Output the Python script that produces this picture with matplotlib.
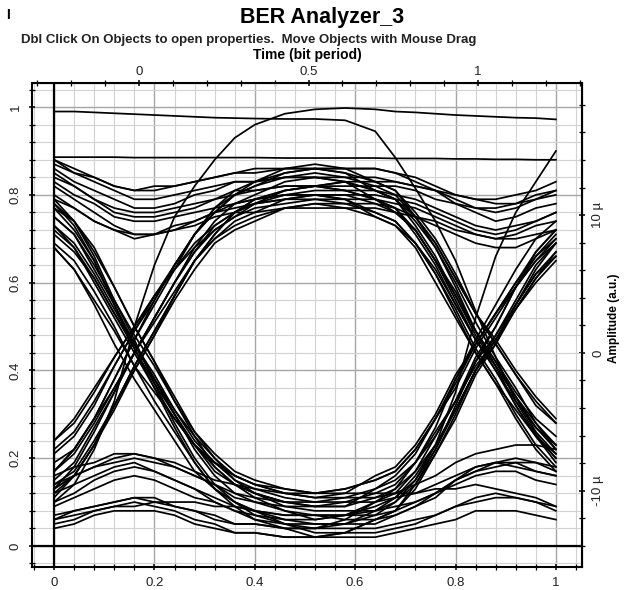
import matplotlib
matplotlib.use("Agg")
import matplotlib.pyplot as plt
from matplotlib.ticker import MultipleLocator, FuncFormatter

plt.rcParams['font.family'] = ['Liberation Sans', 'DejaVu Sans']

# sample times (fraction of the window) shared by every trace
time = [0.0, 0.04, 0.08, 0.12, 0.16, 0.20, 0.24, 0.28, 0.32, 0.36, 0.40, 0.46,
        0.52, 0.58, 0.64, 0.68, 0.72, 0.76, 0.80, 0.84, 0.88, 0.92, 0.96, 1.0]

# 1-0-1 traces (bottom of the eye)
u1 = [0.75, 0.71, 0.64, 0.56, 0.48, 0.41, 0.33, 0.26, 0.21, 0.17, 0.15, 0.13, 0.12, 0.13, 0.15, 0.17, 0.22, 0.29, 0.36, 0.45, 0.52, 0.59, 0.65, 0.70]
u2 = [0.71, 0.67, 0.61, 0.53, 0.45, 0.37, 0.30, 0.23, 0.18, 0.14, 0.12, 0.10, 0.09, 0.10, 0.12, 0.14, 0.19, 0.25, 0.33, 0.42, 0.48, 0.55, 0.62, 0.66]
u3 = [0.77, 0.72, 0.65, 0.55, 0.46, 0.38, 0.30, 0.22, 0.16, 0.12, 0.10, 0.08, 0.06, 0.07, 0.10, 0.12, 0.17, 0.25, 0.33, 0.43, 0.50, 0.59, 0.66, 0.71]
u4 = [0.69, 0.65, 0.58, 0.50, 0.41, 0.33, 0.26, 0.19, 0.13, 0.10, 0.08, 0.05, 0.04, 0.05, 0.08, 0.10, 0.15, 0.22, 0.31, 0.40, 0.47, 0.55, 0.62, 0.67]
u5 = [0.73, 0.69, 0.62, 0.54, 0.46, 0.39, 0.31, 0.24, 0.19, 0.15, 0.13, 0.11, 0.10, 0.11, 0.13, 0.15, 0.19, 0.26, 0.33, 0.41, 0.47, 0.54, 0.60, 0.65]
u6 = [0.78, 0.73, 0.65, 0.55, 0.45, 0.36, 0.27, 0.19, 0.13, 0.09, 0.06, 0.04, 0.02, 0.03, 0.06, 0.08, 0.14, 0.22, 0.32, 0.42, 0.50, 0.59, 0.67, 0.72]
u7 = [0.77, 0.74, 0.67, 0.59, 0.50, 0.42, 0.34, 0.26, 0.20, 0.15, 0.12, 0.10, 0.09, 0.09, 0.13, 0.16, 0.21, 0.29, 0.38, 0.46, 0.53, 0.60, 0.66, 0.70]
u8 = [0.68, 0.63, 0.55, 0.46, 0.38, 0.31, 0.24, 0.17, 0.13, 0.10, 0.08, 0.06, 0.05, 0.05, 0.07, 0.10, 0.14, 0.21, 0.29, 0.39, 0.46, 0.55, 0.63, 0.69]
u9 = [0.73, 0.68, 0.60, 0.52, 0.44, 0.36, 0.29, 0.23, 0.19, 0.16, 0.14, 0.12, 0.11, 0.12, 0.16, 0.18, 0.23, 0.30, 0.39, 0.46, 0.53, 0.59, 0.65, 0.69]

# 0-1-0 traces (top of the eye)
n1 = [0.19, 0.22, 0.29, 0.36, 0.44, 0.51, 0.58, 0.65, 0.70, 0.73, 0.75, 0.77, 0.78, 0.77, 0.75, 0.73, 0.69, 0.63, 0.55, 0.47, 0.41, 0.34, 0.28, 0.23]
n2 = [0.15, 0.19, 0.27, 0.35, 0.44, 0.52, 0.60, 0.67, 0.73, 0.76, 0.78, 0.81, 0.82, 0.81, 0.79, 0.76, 0.72, 0.65, 0.56, 0.47, 0.40, 0.32, 0.25, 0.20]
n3 = [0.22, 0.26, 0.33, 0.41, 0.49, 0.56, 0.64, 0.71, 0.76, 0.80, 0.82, 0.84, 0.85, 0.84, 0.82, 0.80, 0.75, 0.69, 0.61, 0.53, 0.46, 0.39, 0.32, 0.28]
n4 = [0.11, 0.16, 0.23, 0.32, 0.41, 0.49, 0.57, 0.65, 0.70, 0.74, 0.76, 0.79, 0.80, 0.79, 0.76, 0.74, 0.69, 0.62, 0.53, 0.44, 0.37, 0.29, 0.22, 0.17]
n5 = [0.17, 0.22, 0.29, 0.38, 0.47, 0.56, 0.64, 0.71, 0.77, 0.81, 0.83, 0.86, 0.87, 0.86, 0.83, 0.81, 0.75, 0.68, 0.59, 0.49, 0.41, 0.32, 0.25, 0.19]
n6 = [0.13, 0.18, 0.26, 0.35, 0.44, 0.52, 0.60, 0.68, 0.74, 0.78, 0.80, 0.83, 0.84, 0.83, 0.81, 0.79, 0.75, 0.69, 0.61, 0.53, 0.47, 0.40, 0.34, 0.29]
n7 = [0.13, 0.16, 0.23, 0.31, 0.40, 0.48, 0.57, 0.65, 0.71, 0.76, 0.79, 0.81, 0.82, 0.83, 0.81, 0.79, 0.74, 0.68, 0.60, 0.51, 0.43, 0.36, 0.28, 0.22]
n8 = [0.24, 0.28, 0.35, 0.43, 0.50, 0.57, 0.63, 0.69, 0.73, 0.76, 0.78, 0.79, 0.80, 0.79, 0.75, 0.73, 0.68, 0.60, 0.52, 0.44, 0.37, 0.31, 0.25, 0.21]
n9 = [0.17, 0.22, 0.29, 0.38, 0.47, 0.55, 0.63, 0.71, 0.76, 0.80, 0.82, 0.85, 0.86, 0.85, 0.81, 0.79, 0.73, 0.66, 0.57, 0.49, 0.42, 0.35, 0.29, 0.25]

# 1-1-1 and 0-0-0 traces
h1 = [0.86, 0.83, 0.81, 0.79, 0.77, 0.77, 0.78, 0.80, 0.81, 0.83, 0.83, 0.84, 0.84, 0.84, 0.84, 0.83, 0.82, 0.81, 0.79, 0.77, 0.77, 0.78, 0.79, 0.81]
h2 = [0.82, 0.79, 0.76, 0.73, 0.71, 0.71, 0.73, 0.74, 0.76, 0.78, 0.79, 0.80, 0.80, 0.80, 0.80, 0.79, 0.78, 0.76, 0.74, 0.72, 0.71, 0.72, 0.74, 0.76]
h3 = [0.88, 0.86, 0.84, 0.82, 0.81, 0.81, 0.82, 0.83, 0.84, 0.85, 0.85, 0.86, 0.86, 0.86, 0.86, 0.85, 0.83, 0.81, 0.78, 0.76, 0.74, 0.75, 0.77, 0.78]
h4 = [0.85, 0.82, 0.79, 0.76, 0.75, 0.75, 0.76, 0.77, 0.79, 0.80, 0.81, 0.82, 0.82, 0.82, 0.82, 0.82, 0.81, 0.79, 0.78, 0.77, 0.76, 0.77, 0.79, 0.80]
h5 = [0.79, 0.77, 0.74, 0.72, 0.71, 0.71, 0.72, 0.73, 0.75, 0.76, 0.76, 0.77, 0.77, 0.77, 0.77, 0.76, 0.75, 0.74, 0.72, 0.71, 0.70, 0.70, 0.71, 0.72]
l1 = [0.14, 0.16, 0.18, 0.19, 0.20, 0.19, 0.18, 0.16, 0.14, 0.12, 0.11, 0.10, 0.10, 0.10, 0.10, 0.11, 0.12, 0.14, 0.16, 0.18, 0.19, 0.19, 0.17, 0.16]
l2 = [0.06, 0.08, 0.09, 0.10, 0.11, 0.11, 0.09, 0.08, 0.07, 0.05, 0.05, 0.04, 0.04, 0.04, 0.04, 0.05, 0.06, 0.07, 0.09, 0.11, 0.12, 0.11, 0.10, 0.09]
l3 = [0.10, 0.12, 0.15, 0.17, 0.18, 0.17, 0.15, 0.13, 0.11, 0.09, 0.08, 0.07, 0.07, 0.07, 0.07, 0.08, 0.10, 0.12, 0.15, 0.17, 0.18, 0.19, 0.19, 0.18]
l4 = [0.12, 0.14, 0.16, 0.18, 0.19, 0.17, 0.15, 0.13, 0.10, 0.08, 0.06, 0.05, 0.05, 0.05, 0.05, 0.07, 0.09, 0.11, 0.15, 0.18, 0.19, 0.20, 0.19, 0.17]
l5 = [0.04, 0.05, 0.07, 0.08, 0.08, 0.08, 0.07, 0.05, 0.04, 0.03, 0.03, 0.02, 0.02, 0.02, 0.02, 0.03, 0.04, 0.05, 0.06, 0.08, 0.08, 0.08, 0.07, 0.06]

# 1-1-0 and 0-1-1 traces
a1 = [0.84, 0.82, 0.79, 0.77, 0.76, 0.76, 0.77, 0.78, 0.79, 0.81, 0.81, 0.82, 0.82, 0.81, 0.79, 0.77, 0.72, 0.65, 0.57, 0.48, 0.41, 0.34, 0.27, 0.22]
a2 = [0.80, 0.77, 0.74, 0.72, 0.70, 0.71, 0.72, 0.74, 0.76, 0.77, 0.78, 0.79, 0.79, 0.78, 0.76, 0.74, 0.69, 0.62, 0.54, 0.45, 0.38, 0.30, 0.23, 0.18]
a3 = [0.87, 0.85, 0.84, 0.82, 0.81, 0.82, 0.82, 0.83, 0.84, 0.85, 0.86, 0.86, 0.86, 0.85, 0.83, 0.81, 0.76, 0.70, 0.62, 0.53, 0.46, 0.39, 0.33, 0.28]
a4 = [0.83, 0.80, 0.78, 0.75, 0.74, 0.74, 0.75, 0.76, 0.77, 0.78, 0.79, 0.80, 0.80, 0.80, 0.78, 0.76, 0.72, 0.65, 0.58, 0.49, 0.42, 0.34, 0.26, 0.21]
a5 = [0.88, 0.85, 0.83, 0.81, 0.79, 0.79, 0.80, 0.81, 0.82, 0.83, 0.83, 0.84, 0.84, 0.83, 0.79, 0.77, 0.71, 0.64, 0.55, 0.47, 0.40, 0.33, 0.27, 0.23]
b1 = [0.17, 0.21, 0.28, 0.36, 0.44, 0.52, 0.60, 0.67, 0.72, 0.75, 0.78, 0.80, 0.81, 0.81, 0.81, 0.80, 0.79, 0.77, 0.75, 0.73, 0.72, 0.73, 0.74, 0.76]
b2 = [0.21, 0.25, 0.32, 0.41, 0.49, 0.57, 0.64, 0.71, 0.77, 0.80, 0.83, 0.85, 0.86, 0.86, 0.86, 0.85, 0.84, 0.82, 0.80, 0.79, 0.78, 0.78, 0.80, 0.81]
b3 = [0.12, 0.16, 0.23, 0.32, 0.40, 0.48, 0.56, 0.63, 0.69, 0.72, 0.74, 0.77, 0.78, 0.78, 0.78, 0.77, 0.75, 0.73, 0.71, 0.69, 0.68, 0.68, 0.70, 0.72]
b4 = [0.14, 0.17, 0.24, 0.32, 0.41, 0.49, 0.57, 0.65, 0.71, 0.76, 0.79, 0.81, 0.82, 0.83, 0.83, 0.83, 0.82, 0.81, 0.80, 0.79, 0.79, 0.80, 0.81, 0.83]
b5 = [0.24, 0.29, 0.36, 0.43, 0.50, 0.57, 0.63, 0.68, 0.72, 0.75, 0.77, 0.78, 0.79, 0.79, 0.79, 0.78, 0.77, 0.75, 0.73, 0.71, 0.70, 0.71, 0.73, 0.74]

# 1-0-0 and 0-0-1 traces
c1 = [0.75, 0.71, 0.63, 0.55, 0.46, 0.38, 0.30, 0.23, 0.17, 0.14, 0.12, 0.09, 0.08, 0.08, 0.08, 0.09, 0.10, 0.12, 0.14, 0.16, 0.17, 0.17, 0.15, 0.14]
c2 = [0.72, 0.68, 0.61, 0.53, 0.46, 0.38, 0.31, 0.25, 0.20, 0.16, 0.14, 0.12, 0.11, 0.11, 0.11, 0.12, 0.14, 0.16, 0.19, 0.21, 0.22, 0.23, 0.23, 0.22]
c3 = [0.79, 0.74, 0.66, 0.56, 0.47, 0.37, 0.28, 0.20, 0.14, 0.10, 0.07, 0.05, 0.03, 0.03, 0.03, 0.04, 0.05, 0.07, 0.09, 0.10, 0.11, 0.11, 0.10, 0.08]
c4 = [0.78, 0.74, 0.68, 0.59, 0.50, 0.42, 0.33, 0.25, 0.18, 0.14, 0.11, 0.08, 0.07, 0.06, 0.06, 0.07, 0.09, 0.12, 0.15, 0.17, 0.19, 0.18, 0.17, 0.16]
c5 = [0.68, 0.63, 0.56, 0.49, 0.41, 0.35, 0.29, 0.23, 0.19, 0.16, 0.14, 0.13, 0.12, 0.12, 0.12, 0.12, 0.12, 0.13, 0.13, 0.14, 0.13, 0.12, 0.11, 0.09]
d1 = [0.16, 0.18, 0.19, 0.21, 0.21, 0.20, 0.19, 0.17, 0.15, 0.14, 0.13, 0.12, 0.12, 0.13, 0.15, 0.17, 0.22, 0.29, 0.37, 0.46, 0.53, 0.60, 0.67, 0.72]
d2 = [0.09, 0.11, 0.13, 0.15, 0.16, 0.15, 0.13, 0.11, 0.10, 0.08, 0.07, 0.06, 0.06, 0.07, 0.09, 0.11, 0.16, 0.23, 0.31, 0.40, 0.47, 0.54, 0.61, 0.66]
d3 = [0.05, 0.06, 0.08, 0.09, 0.10, 0.09, 0.08, 0.06, 0.05, 0.03, 0.03, 0.02, 0.02, 0.03, 0.06, 0.08, 0.13, 0.21, 0.30, 0.40, 0.48, 0.56, 0.64, 0.69]
d4 = [0.13, 0.16, 0.18, 0.20, 0.21, 0.20, 0.18, 0.16, 0.14, 0.11, 0.10, 0.09, 0.09, 0.09, 0.11, 0.13, 0.17, 0.23, 0.31, 0.40, 0.46, 0.54, 0.61, 0.67]
d5 = [0.07, 0.08, 0.09, 0.10, 0.11, 0.10, 0.09, 0.08, 0.06, 0.05, 0.05, 0.04, 0.04, 0.06, 0.10, 0.13, 0.19, 0.27, 0.38, 0.47, 0.55, 0.63, 0.70, 0.74]

# odd traces: top line, overshoot bell, late rise, flat 0.885 line
s1 = [0.99, 0.99, 0.988, 0.986, 0.984, 0.982, 0.98, 0.978, 0.976, 0.975, 0.974, 0.973, 0.973, 0.97, 0.945, 0.885, 0.815, 0.74, 0.65, 0.535, 0.43, 0.33, 0.255, 0.20]
s2 = [0.10, 0.14, 0.22, 0.33, 0.50, 0.64, 0.75, 0.82, 0.88, 0.93, 0.96, 0.985, 0.995, 0.998, 0.995, 0.99, 0.988, 0.985, 0.982, 0.98, 0.978, 0.976, 0.975, 0.972]
s3 = [0.06, 0.07, 0.08, 0.09, 0.09, 0.10, 0.10, 0.10, 0.09, 0.09, 0.08, 0.07, 0.07, 0.07, 0.08, 0.11, 0.15, 0.23, 0.35, 0.52, 0.66, 0.76, 0.83, 0.90]
s4 = [0.886, 0.886, 0.886, 0.886, 0.885, 0.885, 0.885, 0.885, 0.885, 0.885, 0.885, 0.884, 0.884, 0.884, 0.884, 0.883, 0.883, 0.883, 0.882, 0.882, 0.881, 0.881, 0.88, 0.88]

traces = [u1, u2, u3, u4, u5, u6, u7, u8, u9,
          n1, n2, n3, n4, n5, n6, n7, n8, n9,
          h1, h2, h3, h4, h5, l1, l2, l3, l4, l5,
          a1, a2, a3, a4, a5, b1, b2, b3, b4, b5,
          c1, c2, c3, c4, c5, d1, d2, d3, d4, d5,
          s1, s2, s3, s4]

# top axis: bit period, right axis: amplitude
bit_zero = 0.169
bit_len = 0.676
amp_zero = 0.44
amp_scale = 31.85   # micro units per normalised unit

fig = plt.figure(figsize=(6.24, 5.9), dpi=100)
ax = fig.add_axes([32 / 624, 1 - 567 / 590, 550 / 624, 484 / 590])
ax.set_xlim(-0.044, 1.052)
ax.set_ylim(-0.048, 1.055)
ax.set_axisbelow(True)

for y in traces:
    ax.plot(time, y, color='black', lw=1.25)

ax.axvline(0, color='black', lw=1.6, zorder=1.5)
ax.axhline(0, color='black', lw=1.6, zorder=1.5)

ax.xaxis.set_major_locator(MultipleLocator(0.2))
ax.xaxis.set_minor_locator(MultipleLocator(0.04))
ax.yaxis.set_major_locator(MultipleLocator(0.2))
ax.yaxis.set_minor_locator(MultipleLocator(0.04))
fmt = FuncFormatter(lambda v, p: f"{v:g}")
ax.xaxis.set_major_formatter(fmt)
ax.yaxis.set_major_formatter(fmt)
ax.grid(which='major', color='#a6a6a6', lw=1.0)
ax.grid(which='minor', color='#d2d2d2', lw=0.8)

for s in ax.spines.values():
    s.set_linewidth(1.5)
ax.tick_params(which='major', direction='inout', length=5, width=1.1,
               labelsize=9.5, labelcolor='#222222')
ax.tick_params(which='minor', direction='inout', length=4, width=0.9)
ax.tick_params(axis='x', pad=5)
ax.tick_params(axis='y', pad=5, labelrotation=90)
for lab in ax.get_yticklabels():
    lab.set_va('center')

top = ax.secondary_xaxis('top', functions=(lambda x: (x - bit_zero) / bit_len,
                                           lambda t: t * bit_len + bit_zero))
top.set_xticks([0, 0.5, 1], labels=['0', '0.5', '1'])
top.xaxis.set_minor_locator(MultipleLocator(0.1))
top.tick_params(which='major', direction='inout', length=5, width=1.1,
                labelsize=9.5, pad=1, labelcolor='#222222')
top.tick_params(which='minor', direction='inout', length=4, width=0.9)

right = ax.secondary_yaxis('right', functions=(lambda y: (y - amp_zero) * amp_scale,
                                               lambda a: a / amp_scale + amp_zero))
right.set_yticks([-10, 0, 10], labels=['-10 \u00b5', '0', '10 \u00b5'])
right.yaxis.set_minor_locator(MultipleLocator(2))
right.tick_params(which='major', direction='inout', length=5, width=1.1,
                  labelsize=9.5, pad=5, labelrotation=90, labelcolor='#222222')
right.tick_params(which='minor', direction='inout', length=4, width=0.9)
for lab in right.get_yticklabels():
    lab.set_va('center')

fig.text(307 / 624, 1 - 55 / 590, 'Time (bit period)', fontsize=10, fontweight='bold',
         ha='center', va='center')
fig.text(614 / 624, 1 - 318 / 590, 'Amplitude (a.u.)', fontsize=8.5, fontweight='bold',
         rotation=90, ha='center', va='center')
fig.text(8 / 624, 1 - 15 / 590, 'I', fontsize=10, fontweight='bold', ha='center', va='center')
fig.text(322 / 624, 1 - 17 / 590, 'BER Analyzer_3', fontsize=15.5, fontweight='bold',
         ha='center', va='center')
fig.text(249 / 624, 1 - 40 / 590,
         'Dbl Click On Objects to open properties.  Move Objects with Mouse Drag',
         fontsize=9.5, fontweight='bold', ha='center', va='center', color='#222222')

fig.savefig('out.png', dpi=100)
